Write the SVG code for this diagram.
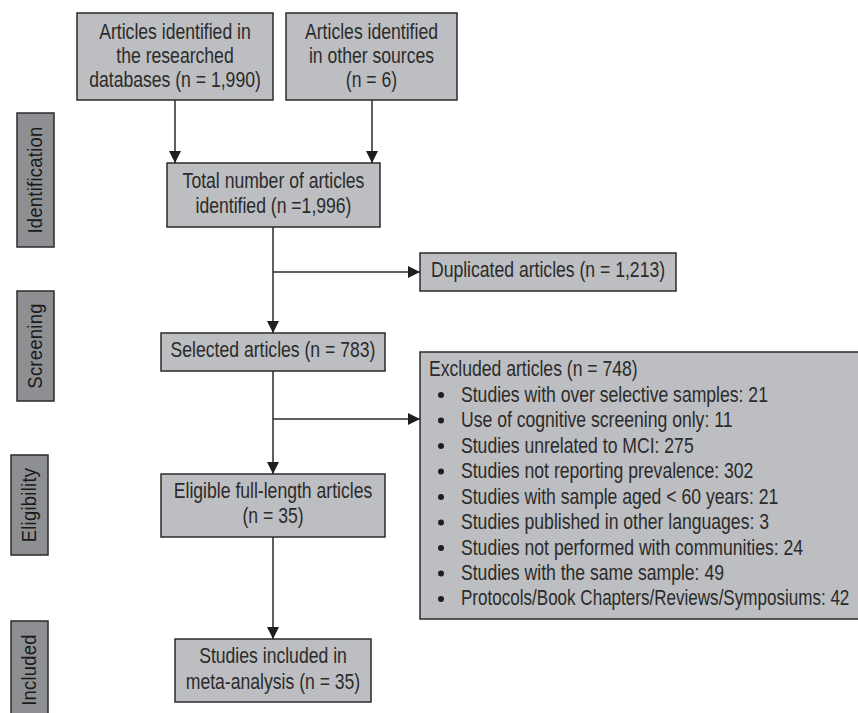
<svg xmlns="http://www.w3.org/2000/svg" width="858" height="713" viewBox="0 0 858 713">
<style>
.box{fill:#bdbec1;stroke:#2b2b2b;stroke-width:1.5}
.side{fill:#8e8f92;stroke:#2b2b2b;stroke-width:1.5}
.t{font-family:"Liberation Sans",Arial,sans-serif;font-size:22px;fill:#2b2b2b}
.c{text-anchor:middle}
.s{font-family:"Liberation Sans",Arial,sans-serif;font-size:20px;fill:#1a1a1a;text-anchor:middle;letter-spacing:0.3px}
.ln{stroke:#2b2b2b;stroke-width:1.5;fill:none}
</style>
<defs>
<marker id="ah" viewBox="0 0 10 10" refX="10" refY="5" markerWidth="12" markerHeight="12" markerUnits="userSpaceOnUse" orient="auto">
<path d="M0,0 L10,5 L0,10 z" fill="#1e1e1e"/>
</marker>
</defs>
<rect width="858" height="713" fill="#fff"/>

<g id="side-identification"><rect class="side" x="17" y="113" width="37" height="134"/><text class="s" transform="translate(42,180) rotate(-90) scale(0.92,1)">Identification</text></g>
<g id="side-screening"><rect class="side" x="17" y="291" width="37" height="110"/><text class="s" transform="translate(42,346) rotate(-90) scale(0.92,1)">Screening</text></g>
<g id="side-eligibility"><rect class="side" x="11" y="455" width="37" height="100"/><text class="s" transform="translate(36,505) rotate(-90) scale(0.92,1)">Eligibility</text></g>
<g id="side-included"><rect class="side" x="11" y="621" width="37" height="100"/><text class="s" transform="translate(36,670) rotate(-90) scale(0.92,1)">Included</text></g>

<g id="connectors">
<line class="ln" x1="175" y1="100" x2="175" y2="163" marker-end="url(#ah)"/>
<line class="ln" x1="372" y1="100" x2="372" y2="163" marker-end="url(#ah)"/>
<line class="ln" x1="273" y1="227" x2="273" y2="333" marker-end="url(#ah)"/>
<line class="ln" x1="273" y1="272" x2="420" y2="272" marker-end="url(#ah)"/>
<line class="ln" x1="273" y1="371" x2="273" y2="474" marker-end="url(#ah)"/>
<line class="ln" x1="273" y1="419" x2="420" y2="419" marker-end="url(#ah)"/>
<line class="ln" x1="273" y1="537" x2="273" y2="639" marker-end="url(#ah)"/>
</g>

<g id="n-databases"><rect class="box" x="77" y="13" width="196" height="87"/>
<text class="t c" transform="translate(175,39) scale(0.8,1)">Articles identified in</text>
<text class="t c" transform="translate(175,63) scale(0.8,1)">the researched</text>
<text class="t c" transform="translate(175,87) scale(0.8,1)">databases (n = 1,990)</text></g>

<g id="n-other"><rect class="box" x="286" y="13" width="171" height="87"/>
<text class="t c" transform="translate(371.5,39) scale(0.8,1)">Articles identified</text>
<text class="t c" transform="translate(371.5,63) scale(0.8,1)">in other sources</text>
<text class="t c" transform="translate(371.5,87) scale(0.8,1)">(n = 6)</text></g>

<g id="n-total"><rect class="box" x="167" y="163" width="213" height="64"/>
<text class="t c" transform="translate(273.5,188) scale(0.8,1)">Total number of articles</text>
<text class="t c" transform="translate(273.5,213) scale(0.8,1)">identified (n =1,996)</text></g>

<g id="n-duplicated"><rect class="box" x="420" y="253" width="256" height="38"/>
<text class="t c" transform="translate(548,277) scale(0.8,1)">Duplicated articles (n = 1,213)</text></g>

<g id="n-selected"><rect class="box" x="161" y="333" width="224" height="38"/>
<text class="t c" transform="translate(273,357) scale(0.8,1)">Selected articles (n = 783)</text></g>

<g id="n-excluded"><rect class="box" x="420" y="352" width="445" height="267"/>
<text class="t" transform="translate(429,376) scale(0.8,1)">Excluded articles (n = 748)</text>
<g fill="#1e1e1e">
<circle cx="441" cy="395" r="3"/><circle cx="441" cy="420.5" r="3"/><circle cx="441" cy="446" r="3"/><circle cx="441" cy="471.5" r="3"/><circle cx="441" cy="497" r="3"/><circle cx="441" cy="522.5" r="3"/><circle cx="441" cy="548" r="3"/><circle cx="441" cy="573.5" r="3"/><circle cx="441" cy="599" r="3"/>
</g>
<text class="t" transform="translate(461,401.5) scale(0.8,1)">Studies with over selective samples: 21</text>
<text class="t" transform="translate(461,427) scale(0.8,1)">Use of cognitive screening only: 11</text>
<text class="t" transform="translate(461,452.5) scale(0.8,1)">Studies unrelated to MCI: 275</text>
<text class="t" transform="translate(461,478) scale(0.8,1)">Studies not reporting prevalence: 302</text>
<text class="t" transform="translate(461,503.5) scale(0.8,1)">Studies with sample aged &lt; 60 years: 21</text>
<text class="t" transform="translate(461,529) scale(0.8,1)">Studies published in other languages: 3</text>
<text class="t" transform="translate(461,554.5) scale(0.8,1)">Studies not performed with communities: 24</text>
<text class="t" transform="translate(461,580) scale(0.8,1)">Studies with the same sample: 49</text>
<text class="t" transform="translate(461,605) scale(0.775,1)">Protocols/Book Chapters/Reviews/Symposiums: 42</text></g>

<g id="n-eligible"><rect class="box" x="161" y="474" width="224" height="63"/>
<text class="t c" transform="translate(273,498) scale(0.8,1)">Eligible full-length articles</text>
<text class="t c" transform="translate(273,523) scale(0.8,1)">(n = 35)</text></g>

<g id="n-included"><rect class="box" x="175" y="639" width="196" height="63"/>
<text class="t c" transform="translate(273,663) scale(0.8,1)">Studies included in</text>
<text class="t c" transform="translate(273,689) scale(0.8,1)">meta-analysis (n = 35)</text></g>
</svg>
